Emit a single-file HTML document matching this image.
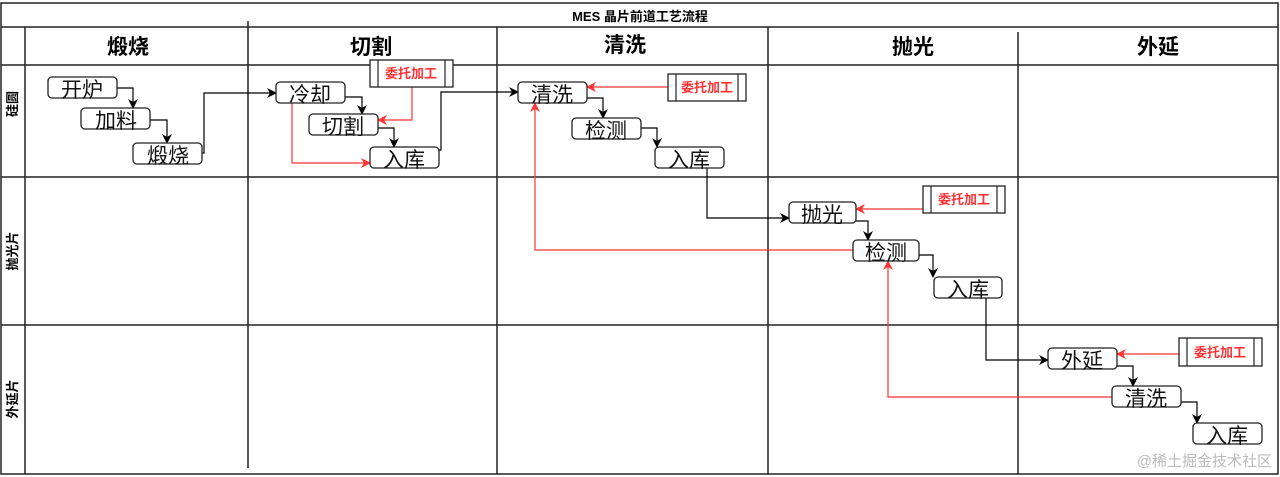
<!DOCTYPE html>
<html><head><meta charset="utf-8"><style>
html,body{margin:0;padding:0;background:#fff;width:1280px;height:477px;overflow:hidden}
svg{display:block}
text{font-family:"Liberation Sans","Noto Sans CJK SC",sans-serif}
</style></head><body>
<svg width="1280" height="477" viewBox="0 0 1280 477" xmlns="http://www.w3.org/2000/svg">
<defs>
<marker id="ab" markerWidth="10" markerHeight="10" refX="9" refY="5" orient="auto" markerUnits="userSpaceOnUse"><path d="M0,0 L10,5 L0,10 L3,5 Z" fill="#000"/></marker>
<marker id="ar" markerWidth="10" markerHeight="10" refX="9" refY="5" orient="auto" markerUnits="userSpaceOnUse"><path d="M0,0 L10,5 L0,10 L3,5 Z" fill="#f33"/></marker>
</defs>
<g stroke="#222" fill="none" stroke-width="1.5">
<rect x="1" y="3" width="1277" height="471"/>
<line x1="1" y1="27" x2="1278" y2="27"/>
<line x1="1" y1="65" x2="1278" y2="65"/>
<line x1="1" y1="177" x2="1278" y2="177"/>
<line x1="1" y1="325" x2="1278" y2="325"/>
<line x1="25" y1="27" x2="25" y2="474"/>
<line x1="248" y1="21" x2="248" y2="468"/>
<line x1="497" y1="27" x2="497" y2="474"/>
<line x1="768" y1="27" x2="768" y2="474"/>
<line x1="1018" y1="32" x2="1018" y2="474"/>
</g>
<text x="640" y="21" font-size="13" font-weight="bold" text-anchor="middle">MES 晶片前道工艺流程</text>
<g font-size="21" font-weight="bold" text-anchor="middle">
<text x="128" y="54">煅烧</text><text x="371" y="54">切割</text><text x="625" y="52">清洗</text><text x="913" y="54">抛光</text><text x="1158" y="54">外延</text>
</g>
<g font-size="13" font-weight="bold" text-anchor="middle">
<text transform="translate(17,104) rotate(-90)">硅圆</text>
<text transform="translate(17,251) rotate(-90)">抛光片</text>
<text transform="translate(17,399) rotate(-90)">外延片</text>
</g>
<g stroke="#000" fill="none" stroke-width="1.2" marker-end="url(#ab)">
<path d="M117,88 H133 V108"/>
<path d="M150,120 H167 V143"/>
<path d="M202,153 H204 V93 H276"/>
<path d="M345,97 H362 V114"/>
<path d="M378,128 H394 V147"/>
<path d="M439,150 H441 V92 H518"/>
<path d="M587,98 H603 V118"/>
<path d="M641,128 H657 V147"/>
<path d="M707,168 V218 H789"/>
<path d="M856,221 H868 V240"/>
<path d="M919,255 H933 V277"/>
<path d="M986,298 V360 H1048"/>
<path d="M1117,366 H1133 V386"/>
<path d="M1181,402 H1197 V423"/>
</g>
<g stroke="#f33" fill="none" stroke-width="1.2" marker-end="url(#ar)">
<path d="M292,103 V163 H370"/>
<path d="M412,87 V120 H378"/>
<path d="M668,87 H587"/>
<path d="M853,250 H535 V103"/>
<path d="M923,209 H856"/>
<path d="M1179,354 H1117"/>
<path d="M1112,397 H888 V261"/>
</g>
<g stroke="#222" fill="#fff" stroke-width="1.3">
<rect x="48" y="77" width="69" height="21" rx="4"/>
<rect x="81" y="108" width="69" height="21" rx="4"/>
<rect x="133" y="143" width="69" height="21" rx="4"/>
<rect x="276" y="82" width="69" height="21" rx="4"/>
<rect x="309" y="114" width="69" height="21" rx="4"/>
<rect x="370" y="147" width="69" height="21" rx="4"/>
<rect x="518" y="82" width="69" height="21" rx="4"/>
<rect x="572" y="118" width="69" height="21" rx="4"/>
<rect x="655" y="147" width="69" height="21" rx="4"/>
<rect x="789" y="202" width="67" height="21" rx="4"/>
<rect x="853" y="240" width="66" height="21" rx="4"/>
<rect x="934" y="277" width="68" height="21" rx="4"/>
<rect x="1048" y="348" width="69" height="21" rx="4"/>
<rect x="1112" y="386" width="69" height="21" rx="4"/>
<rect x="1193" y="423" width="69" height="21" rx="4"/>
<rect x="370" y="60" width="83" height="27"/>
<rect x="668" y="74" width="78" height="27"/>
<rect x="923" y="186" width="82" height="27"/>
<rect x="1179" y="338" width="83" height="28"/>
</g>
<g stroke="#222" stroke-width="1.2">
<line x1="378" y1="60" x2="378" y2="87"/><line x1="445" y1="60" x2="445" y2="87"/>
<line x1="676" y1="74" x2="676" y2="101"/><line x1="738" y1="74" x2="738" y2="101"/>
<line x1="931" y1="186" x2="931" y2="213"/><line x1="997" y1="186" x2="997" y2="213"/>
<line x1="1187" y1="338" x2="1187" y2="366"/><line x1="1254" y1="338" x2="1254" y2="366"/>
</g>
<g font-size="21" text-anchor="middle" fill="#111">
<text x="82" y="97">开炉</text><text x="116" y="128">加料</text><text x="168" y="163">煅烧</text>
<text x="310" y="102">冷却</text><text x="343" y="134">切割</text><text x="404" y="167">入库</text>
<text x="552" y="102">清洗</text><text x="606" y="138">检测</text><text x="689" y="167">入库</text>
<text x="822" y="222">抛光</text><text x="886" y="260">检测</text><text x="968" y="297">入库</text>
<text x="1082" y="368">外延</text><text x="1146" y="406">清洗</text><text x="1227" y="443">入库</text>
</g>
<g font-size="13" font-weight="bold" text-anchor="middle" fill="#f33">
<text x="411" y="78">委托加工</text><text x="707" y="92">委托加工</text><text x="964" y="204">委托加工</text><text x="1220" y="357">委托加工</text>
</g>
<text x="1272" y="466" font-size="15" text-anchor="end" fill="#bbb">@稀土掘金技术社区</text>
</svg>
</body></html>
